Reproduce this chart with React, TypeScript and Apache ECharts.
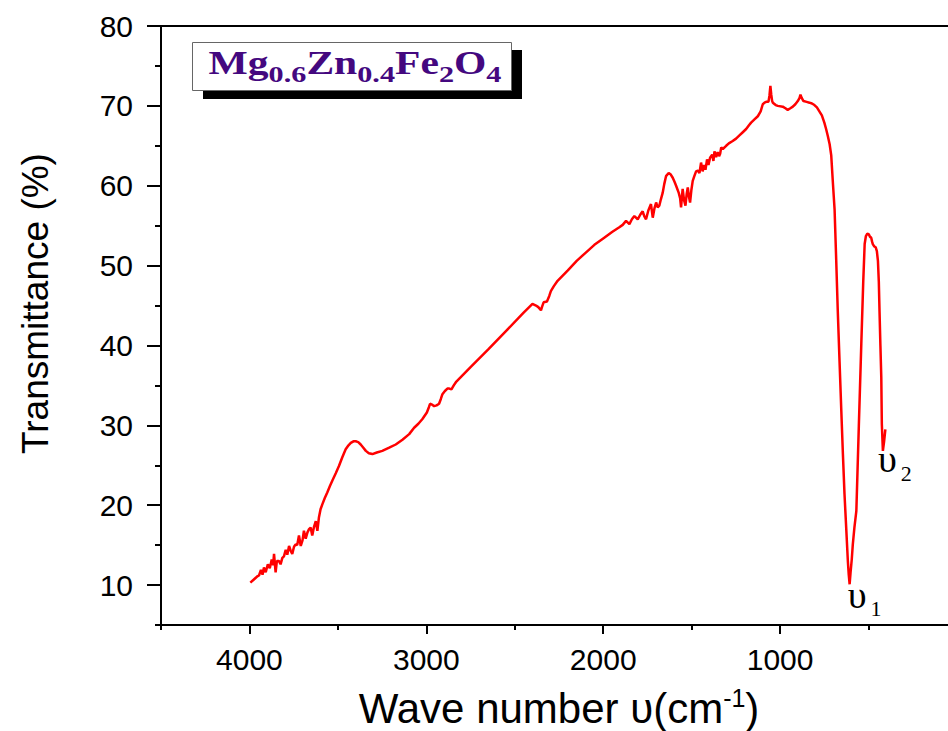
import React, { useEffect, useRef } from "react";
import * as echarts from "echarts";

// FT-IR spectrum of Mg0.6Zn0.4Fe2O4 (wave number in cm-1, transmittance in %)
const waveNumbers = [
  3995, 3975, 3955, 3946, 3935, 3926, 3918, 3908, 3896, 3885, 3874, 3866, 3861, 3852, 3845, 3833,
  3824, 3814, 3805, 3795, 3786, 3776, 3767, 3758, 3748, 3739, 3730, 3720, 3710, 3700, 3692, 3682,
  3672, 3663, 3654, 3645, 3635, 3625, 3616, 3607, 3598, 3588, 3574, 3560, 3545, 3531, 3512, 3494,
  3475, 3456, 3440, 3427, 3412, 3399, 3385, 3371, 3356, 3342, 3325, 3305, 3280, 3249, 3210, 3173,
  3135, 3097, 3069, 3045, 3022, 2997, 2985, 2979, 2968, 2956, 2942, 2928, 2918, 2909, 2895, 2881,
  2870, 2858, 2845, 2833, 2750, 2650, 2550, 2450, 2400, 2380, 2367, 2352, 2345, 2337, 2318, 2305,
  2296, 2280, 2258, 2200, 2150, 2100, 2050, 2000, 1950, 1909, 1890, 1871, 1852, 1838, 1824, 1805,
  1790, 1777, 1768, 1758, 1745, 1730, 1720, 1710, 1701, 1692, 1683, 1674, 1664, 1655, 1645, 1630,
  1618, 1607, 1597, 1588, 1573, 1565, 1560, 1555, 1551, 1543, 1535, 1528, 1522, 1515, 1509, 1502,
  1494, 1485, 1475, 1465, 1456, 1451, 1447, 1438, 1430, 1422, 1413, 1405, 1396, 1384, 1377, 1371,
  1362, 1353, 1345, 1339, 1333, 1324, 1305, 1290, 1268, 1249, 1230, 1211, 1192, 1175, 1164, 1145,
  1126, 1110, 1098, 1088, 1079, 1066, 1060, 1055, 1050, 1045, 1041, 1025, 1013, 985, 970, 957,
  942, 928, 914, 900, 890, 885, 878, 868, 850, 834, 820, 806, 792, 778, 764, 750,
  740, 730, 720, 711, 702, 692, 683, 674, 664, 654, 645, 636, 626, 617, 612, 607,
  602, 595, 589, 580, 569, 555, 541, 530, 522, 515, 507, 498, 492, 485, 480, 476,
  468, 460, 453, 447, 442, 438, 433, 428, 425, 419, 412, 405,
];

const transmittance = [
  10.3, 10.7, 11.1, 11.2, 11.9, 11.3, 12.2, 11.6, 12.6, 12.1, 13.2, 12.5, 13.9, 11.6, 13.0, 13.0,
  12.6, 13.4, 13.6, 14.4, 13.8, 14.9, 14.3, 13.9, 14.8, 15.1, 15.0, 16.2, 14.9, 15.6, 16.8, 15.8,
  16.6, 17.0, 17.2, 16.2, 17.3, 18.0, 16.8, 18.5, 19.5, 20.1, 20.9, 21.6, 22.4, 23.1, 24.0, 24.9,
  26.0, 27.0, 27.5, 27.8, 28.0, 28.0, 27.9, 27.6, 27.2, 26.8, 26.5, 26.4, 26.6, 26.8, 27.2, 27.6,
  28.2, 28.9, 29.7, 30.2, 30.8, 31.6, 32.3, 32.7, 32.6, 32.4, 32.5, 32.7, 33.3, 33.9, 34.3, 34.6,
  34.6, 34.5, 35.0, 35.4, 37.3, 39.5, 41.8, 44.1, 45.2, 45.0, 44.8, 44.4, 44.9, 45.4, 45.5, 46.2,
  46.8, 47.4, 48.1, 49.4, 50.6, 51.6, 52.6, 53.4, 54.2, 54.8, 55.1, 55.6, 55.2, 55.8, 56.2, 55.8,
  56.4, 56.8, 56.2, 55.8, 56.9, 57.7, 56.0, 57.2, 57.9, 57.3, 57.5, 58.3, 59.1, 60.2, 61.2, 61.6,
  61.4, 61.0, 60.5, 60.0, 59.1, 58.4, 57.3, 58.6, 59.6, 58.2, 57.5, 59.0, 59.8, 58.6, 57.9, 59.4,
  60.6, 61.2, 61.8, 61.9, 61.6, 62.3, 62.9, 61.8, 62.6, 62.0, 63.3, 62.6, 63.5, 63.9, 63.1, 64.3,
  63.6, 64.2, 63.7, 64.0, 64.8, 64.6, 65.0, 65.3, 65.6, 65.9, 66.3, 66.7, 67.1, 67.6, 67.9, 68.3,
  68.7, 69.3, 70.2, 70.4, 70.5, 70.5, 71.3, 72.5, 71.4, 70.6, 70.4, 70.1, 70.0, 69.9, 69.7, 69.5,
  69.7, 69.9, 70.2, 70.6, 71.0, 71.4, 71.0, 70.6, 70.5, 70.4, 70.3, 70.1, 69.8, 69.3, 68.8, 67.9,
  67.1, 66.2, 65.2, 63.8, 60.5, 57.0, 50.8, 44.3, 38.0, 31.8, 26.4, 21.4, 17.0, 13.0, 11.3, 10.1,
  11.5, 13.2, 15.1, 17.2, 19.3, 29.9, 40.2, 48.0, 52.7, 53.7, 54.0, 53.9, 53.6, 53.5, 53.0, 52.7,
  52.4, 52.3, 51.8, 50.6, 48.0, 44.3, 40.0, 36.0, 30.2, 26.8, 28.0, 29.5,
];

const xTickLabels = [1000, 2000, 3000, 4000];
const xMinorTicks = [500, 1500, 2500, 3500, 4500];
const yTickLabels = [10, 20, 30, 40, 50, 60, 70, 80];
const yMinorTicks = [5, 15, 25, 35, 45, 55, 65, 75];

const bandLabels = [
  { wave: 607, value: 10.1, sub: "1" },
  { wave: 419, value: 26.8, sub: "2" },
];

const formulaParts = [
  { main: "Mg", sub: "0.6" },
  { main: "Zn", sub: "0.4" },
  { main: "Fe", sub: "2" },
  { main: "O", sub: "4" },
];

const SANS = "'Liberation Sans', Arial, Helvetica, sans-serif";
const SERIF = "'Liberation Serif', 'Times New Roman', serif";

export default function App() {
  const ref = useRef<HTMLDivElement>(null);

  useEffect(() => {
    document.body.style.margin = "0";
    if (!ref.current) return;
    const chart = echarts.init(ref.current, null, { renderer: "svg" });

    const axisLineStyle = { color: "#000", width: 2 };
    const tickLabel = { color: "#000", fontSize: 30, fontFamily: SANS };
    const gridBox = { left: 161, right: -9, top: 26, bottom: 106, outerBoundsMode: "none", containLabel: false };

    const option: any = {
      animation: false,
      backgroundColor: "#fff",
      grid: [
        {
          ...gridBox,
          show: true,
          borderColor: "#000",
          borderWidth: 2,
          backgroundColor: "transparent",
        },
        { ...gridBox, show: false },
      ],
      xAxis: [
        {
          type: "value",
          gridIndex: 0,
          inverse: true,
          min: 0,
          max: 4500,
          position: "bottom",
          axisLine: { show: true, onZero: false, lineStyle: axisLineStyle },
          axisTick: { show: true, length: 9, lineStyle: axisLineStyle, customValues: xTickLabels },
          axisLabel: {
            ...tickLabel,
            margin: 19,
            customValues: xTickLabels,
            formatter: (v: number) => String(v),
          },
          splitLine: { show: false },
          name: "Wave number υ(cm{sup|-1})",
          nameLocation: "middle",
          nameGap: 60,
          nameTextStyle: {
            color: "#000",
            fontSize: 42,
            fontFamily: SANS,
            lineHeight: 46,
            rich: {
              sup: { fontSize: 25, fontFamily: SANS, color: "#000", lineHeight: 25, verticalAlign: "top" },
            },
          },
        },
        {
          type: "value",
          gridIndex: 1,
          inverse: true,
          min: 0,
          max: 4500,
          position: "bottom",
          axisLine: { show: false, onZero: false },
          axisTick: { show: true, length: 5, lineStyle: axisLineStyle, customValues: xMinorTicks },
          axisLabel: { show: false },
          splitLine: { show: false },
        },
      ],
      yAxis: [
        {
          type: "value",
          gridIndex: 0,
          min: 5,
          max: 80,
          position: "left",
          axisLine: { show: true, onZero: false, lineStyle: axisLineStyle },
          axisTick: { show: true, length: 14, lineStyle: axisLineStyle, customValues: yTickLabels },
          axisLabel: { ...tickLabel, margin: 28, customValues: yTickLabels },
          splitLine: { show: false },
          name: "Transmittance (%)",
          nameLocation: "middle",
          nameGap: 107,
          nameTextStyle: {
            color: "#000",
            fontSize: 37,
            fontFamily: SANS,
            padding: [0, 0, 0, 44],
          },
        },
        {
          type: "value",
          gridIndex: 1,
          min: 5,
          max: 80,
          position: "left",
          axisLine: { show: false, onZero: false },
          axisTick: { show: true, length: 6, lineStyle: axisLineStyle, customValues: yMinorTicks },
          axisLabel: { show: false },
          splitLine: { show: false },
        },
      ],
      series: [
        {
          type: "line",
          xAxisIndex: 0,
          yAxisIndex: 0,
          data: waveNumbers.map((w, i) => [w, transmittance[i]]),
          showSymbol: false,
          symbol: "none",
          lineStyle: { color: "#ff0000", width: 2.5 },
          itemStyle: { color: "#ff0000" },
          markPoint: {
            symbol: "circle",
            symbolSize: 1,
            itemStyle: { color: "rgba(0,0,0,0)" },
            data: bandLabels.map((b, i) => ({
              coord: [b.wave, b.value],
              label: {
                show: true,
                position: "bottom",
                distance: 0,
                offset: i === 0 ? [15, -1] : [12, -3],
                formatter: `{u|υ}{s|${b.sub}}`,
                rich: {
                  u: {
                    fontSize: 38,
                    fontFamily: SERIF,
                    color: "#000",
                    lineHeight: 36,
                    padding: [0, 0, 14, 0],
                  },
                  s: {
                    fontSize: 22,
                    fontFamily: SERIF,
                    color: "#000",
                    lineHeight: 24,
                    verticalAlign: "bottom",
                    padding: [0, 0, 0, 4],
                  },
                },
              },
            })),
          },
        },
      ],
      graphic: [
        {
          type: "rect",
          left: 203,
          top: 50,
          shape: { width: 319, height: 49 },
          style: { fill: "#000" },
          z: 10,
        },
        {
          type: "rect",
          left: 192,
          top: 42,
          shape: { width: 319, height: 48 },
          style: { fill: "#fff", stroke: "#666", lineWidth: 1 },
          z: 11,
        },
        {
          type: "text",
          x: 355,
          y: 70,
          scaleX: 1.26,
          z: 12,
          style: {
            text: formulaParts.map((p) => `{m|${p.main}}{s|${p.sub}}`).join(""),
            align: "center",
            verticalAlign: "middle",
            rich: {
              m: {
                fontSize: 33,
                fontFamily: SERIF,
                fontWeight: "bold",
                fill: "#44087f",
                lineHeight: 33,
                padding: [0, 0, 14, 0],
              },
              s: {
                fontSize: 24,
                fontFamily: SERIF,
                fontWeight: "bold",
                fill: "#44087f",
                lineHeight: 22,
                verticalAlign: "bottom",
              },
            },
          },
        },
      ],
    };

    chart.setOption(option);
    return () => {
      chart.dispose();
    };
  }, []);

  return <div ref={ref} style={{ width: 948, height: 731 }} />;
}
